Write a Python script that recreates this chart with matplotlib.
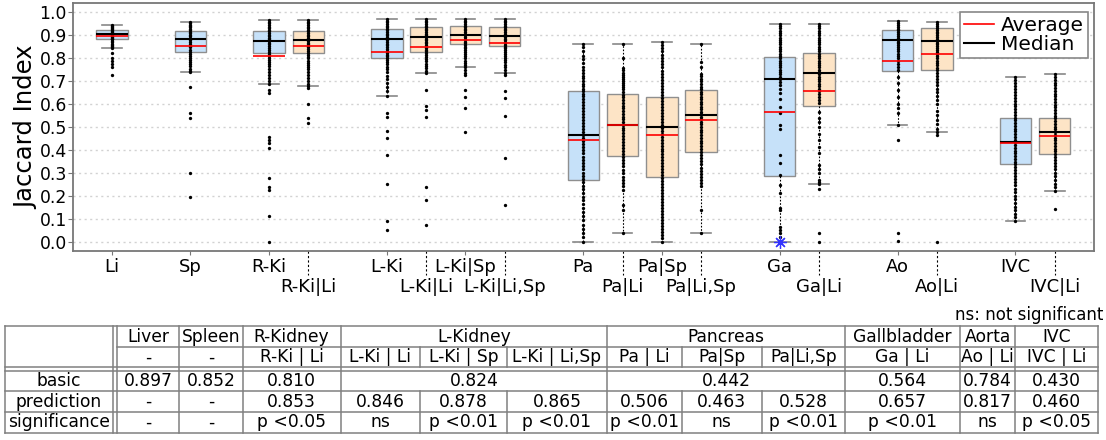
import matplotlib
matplotlib.use('Agg')
import matplotlib.pyplot as plt
import matplotlib.transforms as mtransforms
from matplotlib.lines import Line2D
import numpy as np

# box labels, grouped by organ (first of each group = basic model)
labels = ['Li', 'Sp', 'R-Ki', 'R-Ki|Li', 'L-Ki', 'L-Ki|Li', 'L-Ki|Sp', 'L-Ki|Li,Sp',
          'Pa', 'Pa|Li', 'Pa|Sp', 'Pa|Li,Sp', 'Ga', 'Ga|Li', 'Ao', 'Ao|Li', 'IVC', 'IVC|Li']
group_sizes = [1, 1, 2, 4, 4, 2, 2, 2]

q1 = [0.881, 0.826, 0.823, 0.822, 0.801, 0.826, 0.862, 0.852,
      0.267, 0.371, 0.283, 0.390, 0.287, 0.588, 0.743, 0.748, 0.338, 0.381]
med = [0.904, 0.881, 0.875, 0.877, 0.880, 0.891, 0.900, 0.896,
       0.465, 0.506, 0.500, 0.549, 0.709, 0.732, 0.877, 0.875, 0.435, 0.478]
q3 = [0.920, 0.917, 0.917, 0.917, 0.925, 0.933, 0.938, 0.935,
      0.654, 0.641, 0.628, 0.658, 0.804, 0.823, 0.919, 0.929, 0.538, 0.536]
whislo = [0.841, 0.738, 0.686, 0.678, 0.635, 0.732, 0.758, 0.736,
          0.000, 0.038, 0.000, 0.038, 0.000, 0.249, 0.507, 0.477, 0.090, 0.220]
whishi = [0.942, 0.957, 0.964, 0.964, 0.968, 0.968, 0.968, 0.968,
          0.861, 0.861, 0.870, 0.861, 0.948, 0.948, 0.959, 0.954, 0.717, 0.728]
average = [0.897, 0.852, 0.810, 0.853, 0.824, 0.846, 0.878, 0.865,
           0.442, 0.506, 0.463, 0.528, 0.564, 0.657, 0.784, 0.817, 0.430, 0.460]

# individual cases
pts_li = [0.942, 0.937, 0.932, 0.928, 0.924, 0.92, 0.916, 0.912, 0.908, 0.904, 0.9, 0.896,
          0.892, 0.888, 0.884, 0.88, 0.874, 0.868, 0.862, 0.856, 0.85, 0.845, 0.841,
          0.819, 0.801, 0.787, 0.772, 0.761, 0.723]
pts_sp = [0.957, 0.951, 0.945, 0.939, 0.932, 0.926, 0.92, 0.914, 0.907, 0.9, 0.893, 0.886,
          0.878, 0.87, 0.862, 0.853, 0.845, 0.836, 0.827, 0.818, 0.809, 0.8, 0.79, 0.781,
          0.772, 0.763, 0.752, 0.744, 0.738, 0.671, 0.558, 0.536, 0.300, 0.193]
pts_rki = [0.964, 0.957, 0.95, 0.943, 0.936, 0.929, 0.922, 0.915, 0.908, 0.901, 0.894, 0.887,
           0.88, 0.873, 0.866, 0.858, 0.85, 0.842, 0.834, 0.826, 0.818, 0.81, 0.801, 0.792,
           0.783, 0.774, 0.764, 0.752, 0.74, 0.726, 0.712, 0.698, 0.686, 0.66, 0.645,
           0.456, 0.443, 0.43, 0.406, 0.278, 0.236, 0.225, 0.109, 0.0]
pts_rkili = [0.964, 0.957, 0.95, 0.943, 0.936, 0.929, 0.922, 0.915, 0.908, 0.901, 0.894, 0.887,
             0.88, 0.873, 0.866, 0.859, 0.852, 0.845, 0.837, 0.829, 0.821, 0.813, 0.805, 0.797,
             0.788, 0.779, 0.77, 0.76, 0.75, 0.739, 0.727, 0.714, 0.7, 0.688, 0.678, 0.667,
             0.599, 0.537, 0.515]
pts_lki = [0.968, 0.961, 0.954, 0.947, 0.94, 0.933, 0.926, 0.919, 0.912, 0.905, 0.898, 0.891,
           0.884, 0.877, 0.87, 0.862, 0.854, 0.846, 0.838, 0.83, 0.822, 0.814, 0.806, 0.798,
           0.79, 0.781, 0.772, 0.762, 0.75, 0.737, 0.722, 0.706, 0.69, 0.672, 0.655, 0.635,
           0.558, 0.541, 0.483, 0.449, 0.377, 0.251, 0.091, 0.048]
pts_lkili = [0.968, 0.961, 0.954, 0.947, 0.94, 0.933, 0.926, 0.919, 0.912, 0.905, 0.898, 0.891,
             0.884, 0.877, 0.87, 0.863, 0.856, 0.849, 0.842, 0.835, 0.828, 0.82, 0.812, 0.803,
             0.794, 0.785, 0.775, 0.765, 0.754, 0.743, 0.732, 0.659, 0.59, 0.572, 0.543,
             0.236, 0.181, 0.07]
pts_lkisp = [0.968, 0.961, 0.954, 0.947, 0.94, 0.933, 0.926, 0.919, 0.912, 0.905, 0.898, 0.891,
             0.884, 0.877, 0.87, 0.863, 0.856, 0.849, 0.841, 0.833, 0.825, 0.816, 0.807, 0.797,
             0.787, 0.777, 0.767, 0.758, 0.746, 0.735, 0.725, 0.659, 0.628, 0.58, 0.475]
pts_lkilisp = [0.968, 0.961, 0.954, 0.947, 0.94, 0.933, 0.926, 0.919, 0.912, 0.905, 0.898, 0.891,
               0.884, 0.877, 0.87, 0.863, 0.856, 0.849, 0.842, 0.834, 0.826, 0.817, 0.808, 0.799,
               0.79, 0.78, 0.77, 0.759, 0.748, 0.736, 0.725, 0.657, 0.623, 0.548, 0.362, 0.159]
pts_pa = [0.861, 0.845, 0.828, 0.81, 0.794, 0.778, 0.762, 0.748, 0.735, 0.722, 0.71, 0.699,
          0.688, 0.677, 0.666, 0.655, 0.644, 0.632, 0.62, 0.607, 0.594, 0.581, 0.568, 0.555,
          0.542, 0.529, 0.516, 0.503, 0.49, 0.477, 0.464, 0.451, 0.438, 0.425, 0.412, 0.398,
          0.384, 0.37, 0.356, 0.342, 0.328, 0.314, 0.3, 0.286, 0.272, 0.258, 0.243, 0.228,
          0.212, 0.196, 0.18, 0.163, 0.146, 0.128, 0.11, 0.092, 0.074, 0.056, 0.038, 0.02, 0.0]
pts_pali = [0.861, 0.797, 0.754, 0.745, 0.736, 0.727, 0.718, 0.709, 0.7, 0.691, 0.682, 0.673,
            0.664, 0.652, 0.64, 0.628, 0.616, 0.604, 0.592, 0.58, 0.568, 0.556, 0.544, 0.532,
            0.52, 0.508, 0.496, 0.484, 0.472, 0.46, 0.447, 0.434, 0.421, 0.408, 0.395, 0.382,
            0.369, 0.355, 0.341, 0.327, 0.313, 0.298, 0.283, 0.268, 0.254, 0.24, 0.225,
            0.16, 0.138, 0.038]
pts_pasp = [0.87, 0.856, 0.842, 0.828, 0.814, 0.8, 0.786, 0.772, 0.758, 0.744, 0.73, 0.717,
            0.704, 0.691, 0.678, 0.665, 0.652, 0.639, 0.626, 0.613, 0.6, 0.587, 0.574, 0.561,
            0.548, 0.535, 0.522, 0.509, 0.496, 0.483, 0.47, 0.457, 0.444, 0.431, 0.418, 0.405,
            0.392, 0.379, 0.366, 0.353, 0.34, 0.327, 0.314, 0.301, 0.288, 0.275, 0.262, 0.249,
            0.236, 0.223, 0.21, 0.197, 0.184, 0.171, 0.158, 0.145, 0.132, 0.119, 0.106, 0.093,
            0.08, 0.067, 0.054, 0.041, 0.028, 0.014, 0.0]
pts_palisp = [0.861, 0.78, 0.76, 0.73, 0.719, 0.708, 0.697, 0.686, 0.675, 0.664, 0.653, 0.642,
              0.631, 0.62, 0.609, 0.598, 0.587, 0.576, 0.565, 0.554, 0.543, 0.532, 0.521, 0.51,
              0.499, 0.487, 0.475, 0.463, 0.451, 0.439, 0.427, 0.415, 0.403, 0.39, 0.377,
              0.364, 0.35, 0.336, 0.322, 0.308, 0.294, 0.28, 0.266, 0.253, 0.24, 0.138, 0.038]
pts_ga = [0.948, 0.938, 0.928, 0.918, 0.908, 0.898, 0.888, 0.878, 0.868, 0.858, 0.848, 0.838,
          0.828, 0.818, 0.808, 0.798, 0.788, 0.778, 0.768, 0.758, 0.748, 0.738, 0.728, 0.718,
          0.708, 0.695, 0.68, 0.665, 0.645, 0.62, 0.587, 0.558, 0.507, 0.49, 0.377, 0.341,
          0.29, 0.246, 0.21, 0.145, 0.138, 0.065, 0.05, 0.035, 0.02]
pts_gali = [0.948, 0.938, 0.928, 0.918, 0.908, 0.898, 0.888, 0.878, 0.868, 0.858, 0.848, 0.838,
            0.828, 0.818, 0.808, 0.798, 0.788, 0.778, 0.768, 0.758, 0.748, 0.738, 0.728, 0.718,
            0.708, 0.698, 0.688, 0.677, 0.666, 0.655, 0.643, 0.63, 0.617, 0.603, 0.565, 0.54,
            0.52, 0.5, 0.47, 0.44, 0.41, 0.384, 0.333, 0.315, 0.297, 0.268, 0.258, 0.249,
            0.228, 0.036, 0.0]
pts_ao = [0.959, 0.951, 0.943, 0.935, 0.927, 0.919, 0.911, 0.903, 0.895, 0.887, 0.879, 0.871,
          0.863, 0.855, 0.846, 0.837, 0.828, 0.818, 0.808, 0.797, 0.786, 0.774, 0.761, 0.747,
          0.717, 0.69, 0.66, 0.63, 0.6, 0.58, 0.558, 0.507, 0.442, 0.036, 0.004]
pts_aoli = [0.954, 0.946, 0.938, 0.93, 0.922, 0.914, 0.906, 0.898, 0.89, 0.882, 0.874, 0.866,
            0.858, 0.85, 0.842, 0.834, 0.825, 0.816, 0.807, 0.798, 0.788, 0.778, 0.768, 0.757,
            0.746, 0.734, 0.721, 0.708, 0.694, 0.68, 0.665, 0.65, 0.634, 0.617, 0.6, 0.57,
            0.55, 0.53, 0.51, 0.49, 0.477, 0.464, 0.0]
pts_ivc = [0.717, 0.704, 0.691, 0.678, 0.665, 0.652, 0.639, 0.626, 0.613, 0.6, 0.588, 0.576,
           0.564, 0.552, 0.54, 0.528, 0.516, 0.504, 0.492, 0.48, 0.468, 0.456, 0.444, 0.432,
           0.42, 0.408, 0.396, 0.384, 0.372, 0.36, 0.348, 0.336, 0.324, 0.311, 0.298, 0.285,
           0.272, 0.258, 0.244, 0.23, 0.215, 0.2, 0.184, 0.168, 0.152, 0.136, 0.12, 0.105, 0.09]
pts_ivcli = [0.728, 0.716, 0.704, 0.692, 0.68, 0.668, 0.656, 0.644, 0.632, 0.62, 0.608, 0.596,
             0.584, 0.572, 0.56, 0.548, 0.536, 0.524, 0.512, 0.5, 0.488, 0.476, 0.464, 0.452,
             0.44, 0.428, 0.416, 0.404, 0.392, 0.38, 0.368, 0.355, 0.342, 0.328, 0.314, 0.299,
             0.284, 0.268, 0.252, 0.236, 0.22, 0.141]
points = [pts_li, pts_sp, pts_rki, pts_rkili, pts_lki, pts_lkili, pts_lkisp, pts_lkilisp,
          pts_pa, pts_pali, pts_pasp, pts_palisp, pts_ga, pts_gali, pts_ao, pts_aoli,
          pts_ivc, pts_ivcli]
ga_marked = 0.0   # blue asterisk on the Ga column

# table below the chart
organs = ['Liver', 'Spleen', 'R-Kidney', 'L-Kidney', 'Pancreas', 'Gallbladder', 'Aorta', 'IVC']
organ_span = [1, 1, 1, 3, 3, 1, 1, 1]
sub_labels = ['-', '-', 'R-Ki | Li', 'L-Ki | Li', 'L-Ki | Sp', 'L-Ki | Li,Sp',
              'Pa | Li', 'Pa|Sp', 'Pa|Li,Sp', 'Ga | Li', 'Ao | Li', 'IVC | Li']
basic = ['0.897', '0.852', '0.810', '0.824', '0.442', '0.564', '0.784', '0.430']
prediction = ['-', '-', '0.853', '0.846', '0.878', '0.865', '0.506', '0.463', '0.528',
              '0.657', '0.817', '0.460']
significance = ['-', '-', 'p <0.05', 'ns', 'p <0.01', 'p <0.01', 'p <0.01', 'ns',
                'p <0.01', 'p <0.01', 'ns', 'p <0.05']
row_names = ['basic', 'prediction', 'significance']

# ---------------------------------------------------------------------------
pos, first_in_group, second_row = [], [], []
x = 1
for g in group_sizes:
    for k in range(g):
        pos.append(x)
        first_in_group.append(k == 0)
        second_row.append(k % 2 == 1)
        x += 1
    x += 1

W, H = 1106, 440
fig = plt.figure(figsize=(W / 100, H / 100), dpi=100)
ax = fig.add_axes([73.3 / W, 1 - 250.7 / H, (1094 - 73.3) / W, 248 / H])

stats = []
for i in range(len(labels)):
    stats.append(dict(label=labels[i], q1=q1[i], med=med[i], q3=q3[i], whislo=whislo[i],
                      whishi=whishi[i], mean=average[i], fliers=[]))

res = ax.bxp(stats, positions=pos, widths=0.8, capwidths=0.5, patch_artist=True,
             showmeans=True, meanline=True, showfliers=False,
             boxprops=dict(edgecolor='#8f8f8f', linewidth=1.0),
             whiskerprops=dict(color='black', linewidth=0.8, linestyle=(0, (1.5, 1.5))),
             capprops=dict(color='#888888', linewidth=1.2),
             medianprops=dict(color='black', linewidth=1.5),
             meanprops=dict(color='red', linewidth=1.2, linestyle='-'))
for patch, b in zip(res['boxes'], first_in_group):
    patch.set_facecolor('#c6e1f9' if b else '#fde4c6')
for ln in res['medians'] + res['means']:
    ln.set_zorder(4)

for p, vals in zip(pos, points):
    ax.plot([p] * len(vals), vals, 'o', ms=2.4, color='black', mew=0, zorder=3)
ax.plot([pos[labels.index('Ga')]], [ga_marked], marker=(8, 2, 0), ms=9, color='#3333ff',
        mew=0.9, zorder=5, clip_on=False)

ax.set_xlim(0.02, 26.0)
ax.set_ylim(-0.04, 1.04)
ax.set_yticks(np.linspace(0, 1, 11))
ax.set_yticklabels(['%.1f' % v for v in np.linspace(0, 1, 11)])
ax.yaxis.grid(True, color='#d2d2d2', linestyle=(0, (1.5, 2.5)), linewidth=1.0)
ax.set_axisbelow(True)

row1 = [i for i in range(len(labels)) if not second_row[i]]
row2 = [i for i in range(len(labels)) if second_row[i]]
ax.set_xticks([pos[i] for i in row1])
ax.set_xticklabels([labels[i] for i in row1])
ax.set_xticks([pos[i] for i in row2], minor=True)
ax.set_xticklabels([labels[i] for i in row2], minor=True)
ax.tick_params(axis='x', which='major', length=3, pad=2, labelsize=13, color='#777777')
ax.tick_params(axis='x', which='minor', length=0, pad=20.0, labelsize=13)
ax.tick_params(axis='y', length=3.5, pad=1.2, labelsize=12.4, color='#777777')
trans = mtransforms.blended_transform_factory(ax.transData, ax.transAxes)
for i in row2:
    ax.plot([pos[i], pos[i]], [0, -0.098], transform=trans, color='black', lw=0.8,
            linestyle=(0, (2, 2)), clip_on=False)

for s in ax.spines.values():
    s.set_color('#777777')
    s.set_linewidth(1.3)

ax.set_ylabel('Jaccard Index', fontsize=17.5)
ax.yaxis.set_label_coords(-0.034, 0.5)

handles = [Line2D([], [], color='red', lw=1.2), Line2D([], [], color='black', lw=1.5)]
leg = ax.legend(handles, ['Average', 'Median'], loc='upper right',
                bbox_to_anchor=(1 - 6 / 1020.7, 1 - 9 / 248), borderaxespad=0,
                fontsize=14.5, handlelength=1.5, handletextpad=0.35, labelspacing=0.0,
                borderpad=0.2, fancybox=False, framealpha=1)
leg.get_frame().set_edgecolor('#888888')
leg.get_frame().set_linewidth(1.2)

# ---------------------------------------------------------------------------
tax = fig.add_axes([0, 0, 1, 1])
tax.set_xlim(0, W)
tax.set_ylim(H, 0)
tax.axis('off')

lc, lw = '#808080', 1.1
fs = 12.3
edges = [116.5, 179.3, 242.7, 340.5, 420, 506.7, 607.3, 681.7, 761.7, 845, 960, 1015, 1098]
y_top, y_h1, y_h2, y_h2b, y_r1, y_r2, y_bot = 326, 347.3, 367.3, 370.7, 391, 411.7, 433.3

organ_edges = [0]
for s in organ_span:
    organ_edges.append(organ_edges[-1] + s)

for xv in [5, 113]:
    tax.plot([xv, xv], [y_top, y_bot], color=lc, lw=lw)
for j, xv in enumerate(edges):
    if j in organ_edges:
        tax.plot([xv, xv], [y_top, y_bot], color=lc, lw=lw)
    else:
        tax.plot([xv, xv], [y_h1, y_h2], color=lc, lw=lw)
        tax.plot([xv, xv], [y_r1, y_bot], color=lc, lw=lw)
tax.plot([5, edges[-1]], [y_top, y_top], color=lc, lw=lw)
tax.plot([edges[0], edges[-1]], [y_h1, y_h1], color=lc, lw=lw)
for yv in [y_h2, y_h2b, y_r1, y_r2, y_bot]:
    tax.plot([5, edges[-1]], [yv, yv], color=lc, lw=lw)

for k, name in enumerate(organs):
    xc = (edges[organ_edges[k]] + edges[organ_edges[k + 1]]) / 2
    tax.text(xc, 341.7, name, ha='center', va='baseline', fontsize=fs)
    tax.text(xc, 386, basic[k], ha='center', va='baseline', fontsize=fs)
for j in range(len(sub_labels)):
    xc = (edges[j] + edges[j + 1]) / 2
    tax.text(xc, 362.3, sub_labels[j], ha='center', va='baseline', fontsize=fs)
    tax.text(xc, 406.7, prediction[j], ha='center', va='baseline', fontsize=fs)
    tax.text(xc, 427.3, significance[j], ha='center', va='baseline', fontsize=fs)
for name, yb in zip(row_names, [386, 406.7, 427.3]):
    tax.text(59, yb, name, ha='center', va='baseline', fontsize=fs)

tax.text(1103, 319.5, 'ns: not significant', ha='right', va='baseline', fontsize=12)

fig.savefig('out.png', dpi=100)
